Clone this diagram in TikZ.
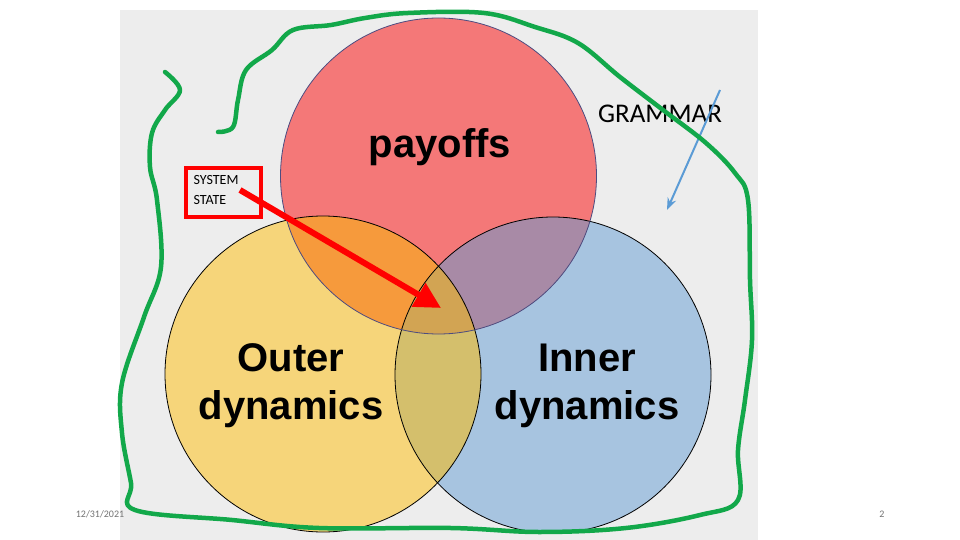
\documentclass[tikz,border=0pt]{standalone}
\usepackage{fontspec}
\setmainfont{Liberation Sans}
\newfontfamily\calfont{Carlito}
\usetikzlibrary{arrows.meta}
\definecolor{bg}{HTML}{EDEDED}
\definecolor{cred}{HTML}{F47878}
\definecolor{cyel}{HTML}{F6D57A}
\definecolor{cblu}{HTML}{A7C4E0}
\definecolor{cry}{HTML}{F69A3C}
\definecolor{crb}{HTML}{A88AA6}
\definecolor{cyb}{HTML}{D4BF6C}
\definecolor{call}{HTML}{D2A453}
\definecolor{grn}{HTML}{12A84A}
\definecolor{barrow}{HTML}{5B9BD5}
\tikzset{big/.style={font=\fontsize{40}{48}\selectfont\bfseries,align=center},
 venn/.style={draw=black,line width=0.8pt}}
\begin{document}
\begin{tikzpicture}[x=1pt,y=-1pt]
\useasboundingbox (0,0) rectangle (960,540);
\fill[white] (0,0) rectangle (960,540);
\fill[bg] (120,10) rectangle (758,540);
\coordinate (R) at (438.5,176);
\coordinate (Y) at (323,374);
\coordinate (B) at (553,375);
\def\rr{158}
\fill[cyel] (Y) circle (\rr);
\fill[cblu] (B) circle (\rr);
\fill[cred] (R) circle (\rr);
\begin{scope}\clip (B) circle (\rr); \fill[crb] (R) circle (\rr); \end{scope}
\begin{scope}\clip (Y) circle (\rr); \fill[cry] (R) circle (\rr); \fill[cyb] (B) circle (\rr);
 \clip (R) circle (\rr); \fill[call] (B) circle (\rr); \end{scope}
\draw[venn] (Y) circle (\rr);
\draw[venn] (B) circle (\rr);
\draw[draw=black!50!blue!40!gray,line width=0.8pt] (R) circle (\rr);
\node[big] (pay) at (440,147) {payoffs};
\node[big] (outer) at (291,386) {Outer\\dynamics};
\node[big] (inner) at (587,386) {Inner\\dynamics};
\node[font=\calfont\fontsize{27}{30}\selectfont] (gram) at (660,114) {GRAMMAR};
\node[draw=red,line width=3.5pt,minimum width=75pt,minimum height=49pt,inner sep=0pt] (sys) at (223.5,192.5) {};
\node[font=\calfont\fontsize{14}{20}\selectfont,align=left,anchor=north west] (syst) at (190,172) {SYSTEM\\STATE};
\coordinate (ra) at (240,190);
\coordinate (rb) at (441,308);
\draw[red,line width=6pt,-{Triangle[length=26pt,width=26pt]}] (ra) -- (rb);
\coordinate (ba) at (720,90);
\coordinate (bb) at (667,210);
\draw[barrow,line width=2pt,-{Stealth[length=12pt,width=9pt]}] (ba) -- (bb);
\draw[grn,line width=4.5pt,line cap=round,line join=round] plot[smooth,tension=0.6] coordinates{
(165,72)(180,90)(165,110)(152,133)(150,167)(157,200)(161,267)(144,317)(122,383)(122,433)(131,483)(135,510)(232,520)(319,528)(451,528)(539,532)(626,528)(700,515)(738,500)(738,450)(745,400)(752,340)(750,280)(748,200)(735,173)(706,143)(663,110)(620,77)(578,43)(535,27)(484,13)(408,13)(365,18)(331,25)(293,30)(272,50)(246,70)(238,100)(233,127)(218,132)};
\node[font=\calfont\fontsize{10}{12}\selectfont,text=black!55] (date) at (100,514) {12/31/2021};
\node[font=\calfont\fontsize{10}{12}\selectfont,text=black!55] (num) at (882,514) {2};
\end{tikzpicture}
\end{document}
